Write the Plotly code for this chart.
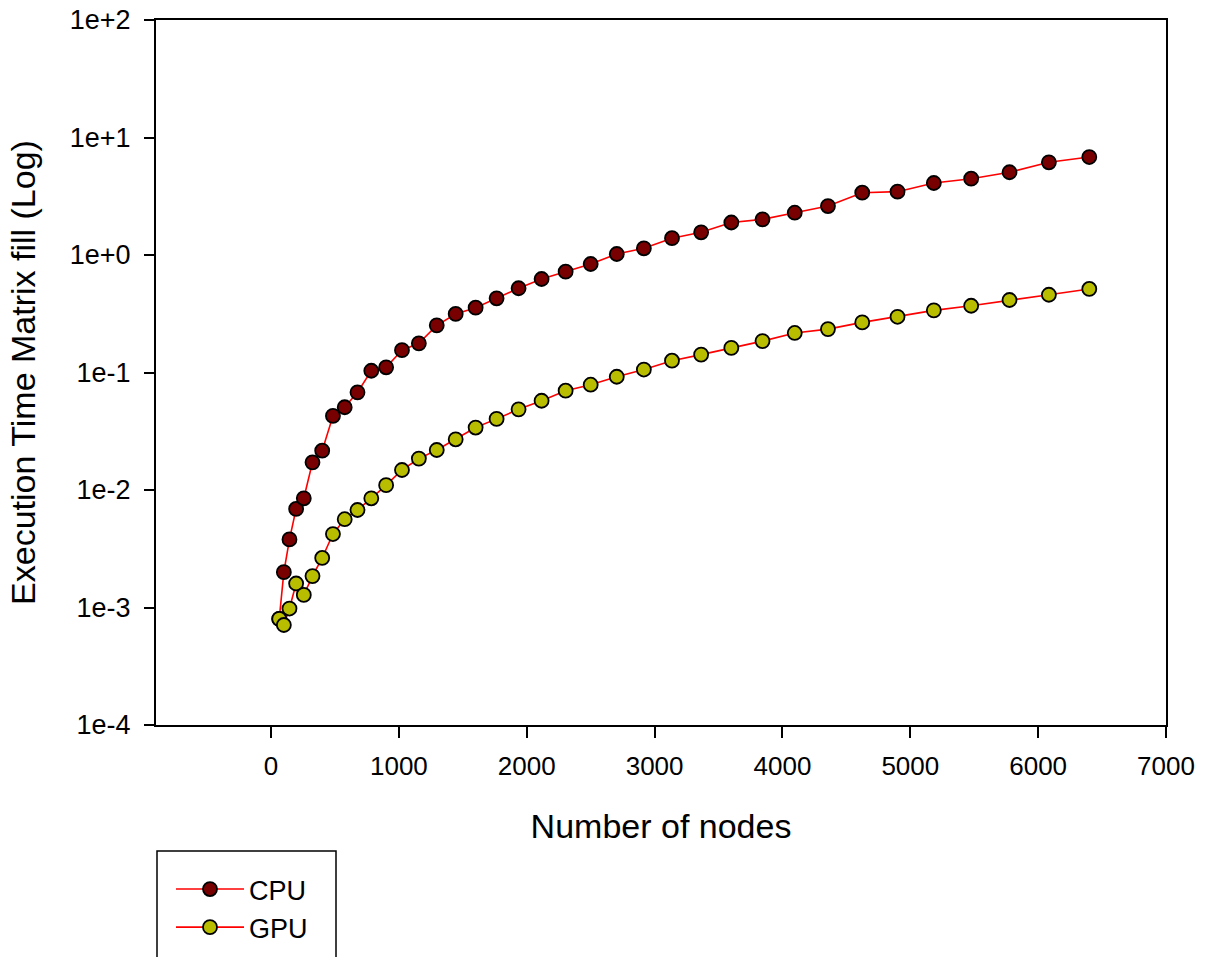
import plotly.graph_objects as go

nodes = [64, 100, 144, 196, 256, 324, 400, 484, 576, 676, 784, 900, 1024, 1156,
         1296, 1444, 1600, 1764, 1936, 2116, 2304, 2500, 2704, 2916, 3136, 3364,
         3600, 3844, 4096, 4356, 4624, 4900, 5184, 5476, 5776, 6084, 6400]

cpu = [0.0008, 0.0020, 0.0038, 0.0069, 0.0085, 0.0172, 0.0216, 0.0427, 0.0506,
       0.0678, 0.1035, 0.1107, 0.155, 0.177, 0.252, 0.315, 0.356, 0.428, 0.521,
       0.625, 0.721, 0.838, 1.02, 1.14, 1.39, 1.56, 1.89, 2.01, 2.29, 2.61, 3.39,
       3.46, 4.10, 4.46, 5.06, 6.15, 6.82]

gpu = [0.0008, 0.00071, 0.00098, 0.0016, 0.00128, 0.00185, 0.00264, 0.00422,
       0.00564, 0.00676, 0.0085, 0.011, 0.0148, 0.0185, 0.0219, 0.027, 0.034,
       0.0403, 0.0486, 0.0575, 0.070, 0.0787, 0.092, 0.106, 0.126, 0.142, 0.162,
       0.185, 0.217, 0.234, 0.267, 0.298, 0.338, 0.370, 0.414, 0.459, 0.514]

y_tickvals = [1e-4, 1e-3, 1e-2, 1e-1, 1e0, 1e1, 1e2]
y_ticktext = ["1e-4", "1e-3", "1e-2", "1e-1", "1e+0", "1e+1", "1e+2"]
x_tickvals = [0, 1000, 2000, 3000, 4000, 5000, 6000, 7000]

FONT = "Liberation Sans, Arial, sans-serif"

fig = go.Figure()
fig.add_trace(go.Scatter(
    x=nodes, y=cpu, name="CPU", mode="lines+markers",
    line=dict(color="#FF0000", width=1.6),
    marker=dict(size=14, color="#780000", line=dict(color="black", width=1.8)),
))
fig.add_trace(go.Scatter(
    x=nodes, y=gpu, name="GPU", mode="lines+markers",
    line=dict(color="#FF0000", width=1.6),
    marker=dict(size=14, color="#B9BD00", line=dict(color="black", width=1.8)),
))

L, R, T, B = 156, 40, 20, 232
W, H = 1206, 957
pw, ph = W - L - R, H - T - B

def px_x(p):
    return (p - L) / pw

def px_y(p):
    return (H - B - p) / ph

fig.update_layout(
    width=W, height=H,
    margin=dict(l=L, r=R, t=T, b=B, pad=0, autoexpand=False),
    paper_bgcolor="white", plot_bgcolor="white",
    font=dict(family=FONT, size=26, color="black"),
    showlegend=True,
    legend=dict(
        x=px_x(171), y=px_y(865), xanchor="left", yanchor="top",
        bgcolor="rgba(0,0,0,0)", borderwidth=0,
        font=dict(size=27, family=FONT), tracegroupgap=0, itemwidth=68,
    ),
    xaxis=dict(
        range=[-900, 7000], tickvals=x_tickvals,
        showgrid=False, zeroline=False,
        showline=True, linecolor="black", linewidth=2, mirror=True,
        ticks="outside", ticklen=11, tickwidth=2, tickcolor="black",
        ticklabelstandoff=6,
        tickfont=dict(size=26, family=FONT),
        title=dict(text="Number of nodes", font=dict(size=34, family=FONT), standoff=34),
    ),
    yaxis=dict(
        type="log", range=[-4, 2], tickvals=y_tickvals, ticktext=y_ticktext,
        showgrid=False, zeroline=False,
        showline=True, linecolor="black", linewidth=2, mirror=True,
        ticks="outside", ticklen=10, tickwidth=2, tickcolor="black",
        ticklabelstandoff=8,
        tickfont=dict(size=27, family=FONT),
        title=dict(text="Execution Time Matrix fill (Log)", font=dict(size=34, family=FONT), standoff=24),
    ),
    shapes=[dict(
        type="rect", xref="paper", yref="paper",
        x0=px_x(157), x1=px_x(336), y0=px_y(975), y1=px_y(851),
        line=dict(color="black", width=1.5), fillcolor="rgba(0,0,0,0)",
        layer="above",
    )],
)

fig.write_html("out.html")
